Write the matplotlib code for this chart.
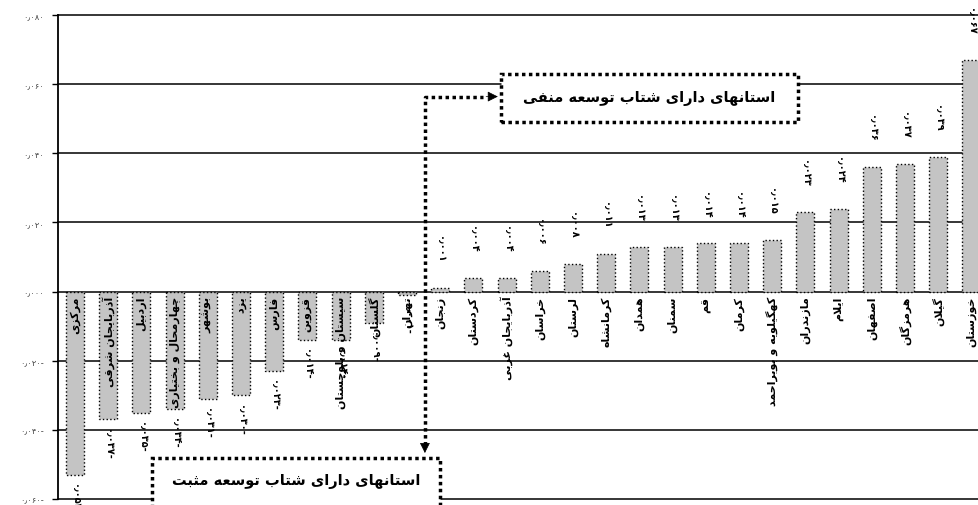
import numpy as np
import matplotlib.pyplot as plt
from matplotlib.patches import Rectangle

plt.rcParams['font.family'] = ['DejaVu Sans']

# data (growth acceleration per province)
provinces = ['مرکزی', 'آذربایجان شرقی', 'اردبیل', 'چهارمحال و بختیاری', 'بوشهر', 'یزد',
             'فارس', 'قزوین', 'سیستان و بلوچستان', 'گلستان', 'تهران', 'زنجان', 'کردستان',
             'آذربایجان غربی', 'خراسان', 'لرستان', 'کرمانشاه', 'همدان', 'سمنان', 'قم',
             'کرمان', 'کهگیلویه و بویراحمد', 'مازندران', 'ایلام', 'اصفهان', 'هرمزگان',
             'گیلان', 'خوزستان']
values = [-0.053, -0.037, -0.035, -0.034, -0.031, -0.030, -0.023, -0.014, -0.014, -0.009,
          -0.001, 0.001, 0.004, 0.004, 0.006, 0.008, 0.011, 0.013, 0.013, 0.014, 0.014,
          0.015, 0.023, 0.024, 0.036, 0.037, 0.039, 0.067]
yticks = [-0.06, -0.04, -0.02, 0.0, 0.02, 0.04, 0.06, 0.08]
note_neg = 'استانهای دارای شتاب توسعه منفی'
note_pos = 'استانهای دارای شتاب توسعه مثبت'

# --- small persian shaper (matplotlib has no arabic shaping) ---
dual = {'ب': 0xFE8F, 'ت': 0xFE95, 'ث': 0xFE99, 'ج': 0xFE9D, 'ح': 0xFEA1, 'خ': 0xFEA5,
        'س': 0xFEB1, 'ش': 0xFEB5, 'ص': 0xFEB9, 'ض': 0xFEBD, 'ط': 0xFEC1, 'ظ': 0xFEC5,
        'ع': 0xFEC9, 'غ': 0xFECD, 'ف': 0xFED1, 'ق': 0xFED5, 'ل': 0xFEDD, 'م': 0xFEE1,
        'ن': 0xFEE5, 'ه': 0xFEE9, 'ی': 0xFBFC, 'ک': 0xFB8E, 'گ': 0xFB92, 'پ': 0xFB56,
        'چ': 0xFB7A}
right = {'ا': 0xFE8D, 'آ': 0xFE81, 'د': 0xFEA9, 'ذ': 0xFEAB, 'ر': 0xFEAD, 'ز': 0xFEAF,
         'و': 0xFEED, 'ژ': 0xFB8A}


def shape(text):
    out = []
    n = len(text)
    i = 0
    while i < n:
        c = text[i]
        prev = text[i - 1] if i > 0 else ''
        link_prev = prev in dual
        if c == 'ل' and i + 1 < n and text[i + 1] in 'اآ':
            lig = 0xFEFB if text[i + 1] == 'ا' else 0xFEF5
            out.append(chr(lig + (1 if link_prev else 0)))
            i += 2
            continue
        nxt = text[i + 1] if i + 1 < n else ''
        if c in dual:
            b = dual[c]
            link_next = nxt in dual or nxt in right
            if link_prev and link_next:
                f = b + 3
            elif link_prev:
                f = b + 1
            elif link_next:
                f = b + 2
            else:
                f = b
            out.append(chr(f))
        elif c in right:
            out.append(chr(right[c] + (1 if link_prev else 0)))
        else:
            out.append(c)
        i += 1
    return ''.join(out)[::-1]


fa = str.maketrans('0123456789.', '۰۱۲۳۴۵۶۷۸۹٫')


def fa_num(v):
    s = ('%.3f' % abs(v)).translate(fa)
    return s + '-' if v < 0 else s


x = np.arange(len(values))

fig = plt.figure(figsize=(9.79, 5.06), dpi=100)
ax = fig.add_axes([58 / 979, 6 / 506, 921 / 979, 484 / 506])
ax.set_xlim(-0.512, 27.23)
ax.set_ylim(-0.06, 0.08)

for t in yticks:
    ax.axhline(t, color='black', lw=1.1, zorder=0, clip_on=False)

ax.bar(x, values, width=0.54, color='#c4c4c4', edgecolor='black', linestyle=':',
       linewidth=1, zorder=2)

for i, (name, v) in enumerate(zip(provinces, values)):
    ax.annotate(shape(name), (i, 0), xytext=(0, -3), textcoords='offset points',
                rotation=90, ha='center', va='top', fontsize=8, fontweight='bold', zorder=3)
    if v > 0:
        ax.annotate(fa_num(v), (i, v), xytext=(0, 18), textcoords='offset points',
                    rotation=270, ha='center', va='bottom', fontsize=7, fontweight='bold', zorder=3)
    else:
        ax.annotate(fa_num(v), (i, v), xytext=(0, -6), textcoords='offset points',
                    rotation=270, ha='center', va='top', fontsize=7, fontweight='bold', zorder=3)

ax.set_yticks(yticks)
ax.set_yticklabels([fa_num(t) for t in yticks], fontsize=6, color='#444444')
ax.tick_params(axis='y', length=4, width=1, pad=6)
ax.set_xticks([])
for s in ['top', 'right', 'bottom']:
    ax.spines[s].set_visible(False)
ax.spines['left'].set_linewidth(1.3)

# annotation boxes and dotted arrows
ax.add_patch(Rectangle((12.82, 0.0491), 8.97, 0.0139, facecolor='white', edgecolor='black',
                       linestyle=(0, (1, 1)), lw=2.5, zorder=5))
ax.text(17.3, 0.0562, shape(note_neg), ha='center', va='center', fontsize=10.5,
        fontweight='bold', zorder=6)
ax.add_patch(Rectangle((2.32, -0.075), 8.68, 0.0269, facecolor='white', edgecolor='black',
                       linestyle=(0, (1, 1)), lw=2.5, zorder=5, clip_on=False))
ax.text(6.66, -0.0547, shape(note_pos), ha='center', va='center', fontsize=10.5,
        fontweight='bold', zorder=6, clip_on=False)

ax.plot([10.54, 10.54, 12.3], [-0.0445, 0.0564, 0.0564], color='black', lw=2.5,
        linestyle=(0, (1, 1)), zorder=5, clip_on=False)
ax.annotate('', xy=(12.82, 0.0564), xytext=(12.3, 0.0564),
            arrowprops=dict(arrowstyle='-|>', mutation_scale=16, color='black', lw=0.5),
            zorder=6)
ax.annotate('', xy=(10.54, -0.0475), xytext=(10.54, -0.0440),
            arrowprops=dict(arrowstyle='-|>', mutation_scale=16, color='black', lw=0.5),
            zorder=6)

fig.savefig('out.png', dpi=100)
